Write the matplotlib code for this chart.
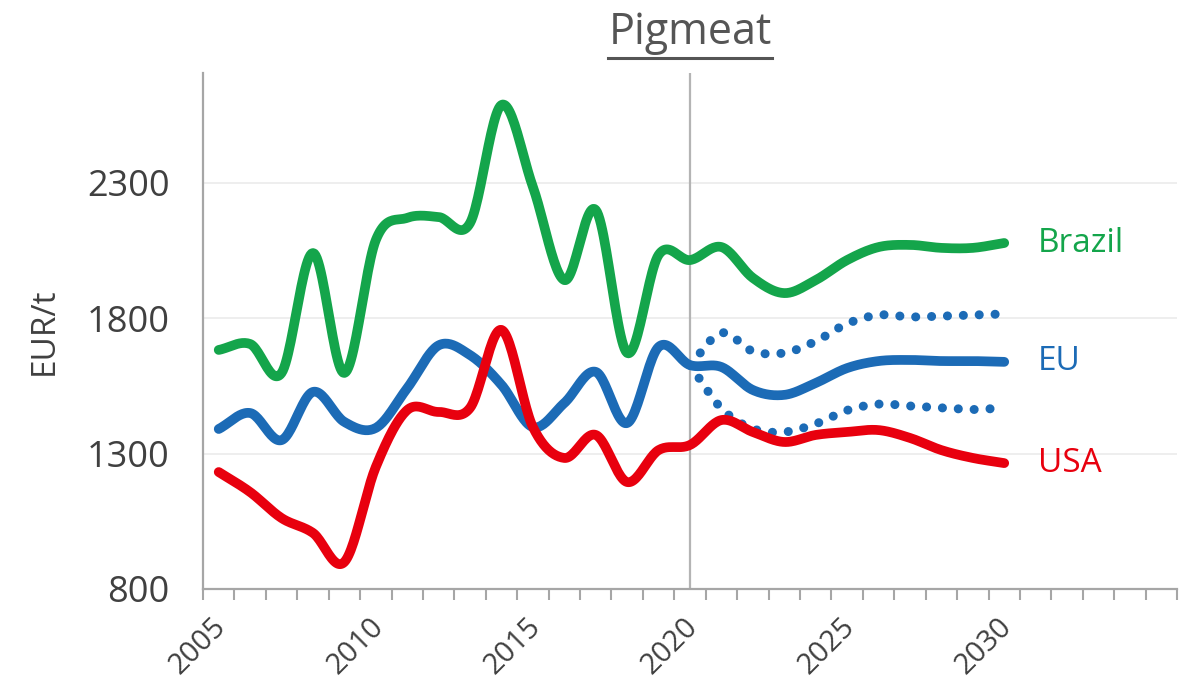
"""Pigmeat prices: Brazil, EU and USA, with EU projection range"""

import numpy as np
import matplotlib
matplotlib.use('Agg')
import matplotlib.pyplot as plt
import matplotlib.transforms as mtransforms
from matplotlib.lines import Line2D

years = list(range(2005, 2031))
brazil = [1683, 1705, 1598, 2041, 1598, 2089, 2171, 2174, 2152, 2588, 2285, 1941, 2200,
          1672, 2034, 2015, 2063, 1949, 1893, 1941, 2015, 2063, 2071, 2060, 2060, 2078]
eu = [1391, 1450, 1350, 1528, 1417, 1395, 1542, 1700, 1664, 1554, 1398, 1487, 1602,
      1413, 1694, 1627, 1620, 1535, 1517, 1561, 1616, 1642, 1646, 1642, 1642, 1639]
usa = [1232, 1158, 1062, 1007, 900, 1251, 1461, 1454, 1469, 1757, 1398, 1284, 1369,
       1195, 1313, 1332, 1424, 1380, 1343, 1369, 1380, 1387, 1358, 1313, 1284, 1265]
proj_years = list(range(2020, 2031))
eu_high = [1627, 1746, 1678, 1672, 1715, 1780, 1812, 1805, 1808, 1812, 1816]
eu_low = [1627, 1467, 1392, 1380, 1410, 1460, 1483, 1476, 1469, 1463, 1469]
yticks = [800, 1300, 1800, 2300]
xlabels = [2005, 2010, 2015, 2020, 2025, 2030]

GREEN = '#14A54B'
BLUE = '#1C6BB6'
RED = '#E8000E'
GREY = '#404040'


def smooth(xs, ys, steps=24):
    # Catmull-Rom curve through the points, like a spreadsheet "smoothed line"
    xs = np.asarray(xs, float)
    ys = np.asarray(ys, float)
    px = np.concatenate([[2 * xs[0] - xs[1]], xs, [2 * xs[-1] - xs[-2]]])
    py = np.concatenate([[2 * ys[0] - ys[1]], ys, [2 * ys[-1] - ys[-2]]])
    t = np.linspace(0, 1, steps, endpoint=False)[:, None]
    outx, outy = [], []
    for i in range(1, len(px) - 2):
        for p, out in ((px, outx), (py, outy)):
            p0, p1, p2, p3 = p[i - 1], p[i], p[i + 1], p[i + 2]
            seg = 0.5 * (2 * p1 + (p2 - p0) * t + (2 * p0 - 5 * p1 + 4 * p2 - p3) * t ** 2
                         + (3 * p1 - p0 - 3 * p2 + p3) * t ** 3)
            out.extend(seg.ravel())
    outx.append(xs[-1])
    outy.append(ys[-1])
    return np.array(outx), np.array(outy)


plt.rcParams['font.family'] = ['Open Sans', 'DejaVu Sans']
fig = plt.figure(figsize=(11.9, 6.86), dpi=100)
ax = fig.add_axes([0.1706, 0.1414, 0.8185, 0.7522])

ax.axvline(2020, color='#B4B4B4', lw=1.6, zorder=1)
for ys, col in ((eu_high, BLUE), (eu_low, BLUE)):
    ax.plot(*smooth(proj_years, ys), color=col, lw=6.5, ls=(0, (0.01, 1.75)),
            dash_capstyle='round', zorder=3)
for ys, col in ((brazil, GREEN), (eu, BLUE), (usa, RED)):
    ax.plot(*smooth(years, ys), color=col, lw=7, solid_capstyle='round', zorder=4)

for name, ys, col in (('Brazil', brazil, GREEN), ('EU', eu, BLUE), ('USA', usa, RED)):
    ax.annotate(name, xy=(years[-1], ys[-1]), xytext=(24, 0), textcoords='offset points',
                va='center', ha='left', color=col, fontsize=24)

ax.set_xlim(2004.5, 2035.5)
ax.set_ylim(800, 2706)
ax.set_yticks(yticks)
ax.set_xticks(xlabels)
ax.set_xticks(np.arange(2004.5, 2036, 1), minor=True)
ax.tick_params(axis='y', length=0, pad=24, labelsize=26, labelcolor=GREY)
ax.tick_params(axis='x', which='major', length=0, pad=17, labelsize=21, labelcolor=GREY)
ax.tick_params(axis='x', which='minor', length=8, width=1.5, color='#A6A6A6')
shift = mtransforms.ScaledTranslation(-7 / 100, 0, fig.dpi_scale_trans)
for lab in ax.get_xticklabels():
    lab.set_rotation(45)
    lab.set_ha('right')
    lab.set_va('top')
    lab.set_rotation_mode('anchor')
    lab.set_transform(lab.get_transform() + shift)
ax.grid(axis='y', color='#EDEDED', lw=1.3, zorder=0)
ax.set_axisbelow(True)
for side in ('top', 'right'):
    ax.spines[side].set_visible(False)
for side in ('left', 'bottom'):
    ax.spines[side].set_color('#A6A6A6')
    ax.spines[side].set_linewidth(1.6)
ax.set_ylabel('EUR/t', fontsize=24, color=GREY, labelpad=19)

title = ax.set_title('Pigmeat', fontsize=31, color='#555555', pad=21)
fig.canvas.draw()
bb = title.get_window_extent()
inv = fig.transFigure.inverted()
(x0, y0), (x1, _) = inv.transform([(bb.x0, bb.y0 - 3), (bb.x1, bb.y0)])
fig.add_artist(Line2D([x0, x1], [y0, y0], color='#555555', lw=2.2))

fig.savefig('out.png', dpi=100)
